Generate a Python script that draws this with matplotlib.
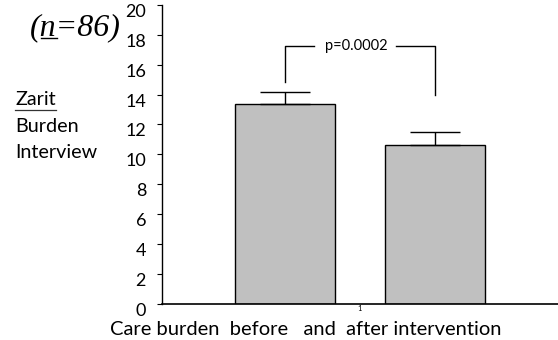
import matplotlib
matplotlib.use("Agg")
import matplotlib.pyplot as plt
import matplotlib.transforms as mtransforms
import numpy as np

# ---- data ----
categories = ["before", "after"]
means = [13.4, 10.6]
errors = [0.75, 0.9]
p_text = "p=0.0002"
bracket_left, bracket_top, bracket_right = 14.85, 17.25, 14.0
yticks = [0, 2, 4, 6, 8, 10, 12, 14, 16, 18, 20]
xtick_labels = ["1"]
xlabel = "Care burden  before   and  after intervention"
ylabel_lines = ["Zarit", "Burden", "Interview"]
n_text = "(n=86)"

offsets = [-0.19, 0.19]
bar_w = 0.2525
FONT = "Lato"

fig = plt.figure(figsize=(5.58, 3.40), dpi=100)
ax = fig.add_axes([162/558, (340-303.5)/340, 396/558, (303.5-5)/340])

xs = [1 + o for o in offsets]
ax.bar(xs, means, width=bar_w, color="#c0c0c0", edgecolor="black", linewidth=1.0, zorder=2)
ax.errorbar(xs, means, yerr=[[0, 0], errors], fmt="none", ecolor="black",
            elinewidth=1.0, capsize=18, capthick=1.0, zorder=3)

# significance bracket
x1, x2 = xs
ax.plot([x1, x1, x1 + 0.075], [bracket_left, bracket_top, bracket_top], color="black", lw=1.0)
ax.plot([x2 - 0.1, x2, x2], [bracket_top, bracket_top, bracket_right], color="black", lw=1.0)
ax.text(0.99, bracket_top, p_text, ha="center", va="center",
        fontsize=10.5, family=FONT)

ax.set_xlim(0.5, 1.5)
ax.set_ylim(0, 20)
ax.set_yticks(yticks)
ax.set_yticklabels([str(t) for t in yticks], fontsize=13, family=FONT)
ax.set_xticks([1])
ax.set_xticklabels(xtick_labels, fontsize=5.5, family=FONT)
ax.tick_params(axis="x", length=0, pad=1)
ax.tick_params(axis="y", length=3.5, width=0.8, pad=8, direction="out")
for lab in ax.get_yticklabels():
    lab.set_transform(lab.get_transform() + mtransforms.ScaledTranslation(0, -0.055, fig.dpi_scale_trans))

for s in ["top", "right"]:
    ax.spines[s].set_visible(False)
ax.spines["left"].set_linewidth(1.0)
ax.spines["bottom"].set_linewidth(1.2)

fig.text(110/558, (340-335)/340, xlabel, ha="left", va="baseline", fontsize=14.5, family=FONT)

# left label lines
ys = [100, 126, 152]
texts = []
for line, y in zip(ylabel_lines, ys):
    t = fig.text(15/558, (340-y)/340, line, ha="left", va="center", fontsize=14.2, family=FONT)
    texts.append(t)

NS = 23
ny = (340-28)/340
nt = fig.text(30/558, ny, n_text, ha="left", va="center", fontsize=NS,
              family="Liberation Serif", style="italic")

fig.canvas.draw()
r = fig.canvas.get_renderer()
# underline "Zarit"
bb = texts[0].get_window_extent(r)
fig.add_artist(plt.Line2D([bb.x0 / fig.bbox.width, bb.x1 / fig.bbox.width],
                          [(bb.y0 - 1) / fig.bbox.height] * 2, color="#333333", lw=0.9,
                          transform=fig.transFigure))
# underline "n"
tmp1 = fig.text(30/558, ny, "(", fontsize=NS, family="Liberation Serif", style="italic", va="center")
tmp2 = fig.text(30/558, ny, "(n", fontsize=NS, family="Liberation Serif", style="italic", va="center")
b1 = tmp1.get_window_extent(r); b2 = tmp2.get_window_extent(r)
tmp1.remove(); tmp2.remove()
bn = nt.get_window_extent(r)
yline = bn.y0 + 5
fig.add_artist(plt.Line2D([b1.x1 / fig.bbox.width, b2.x1 / fig.bbox.width],
                          [yline / fig.bbox.height] * 2, color="black", lw=1.0,
                          transform=fig.transFigure))

fig.savefig("out.png", dpi=100)
